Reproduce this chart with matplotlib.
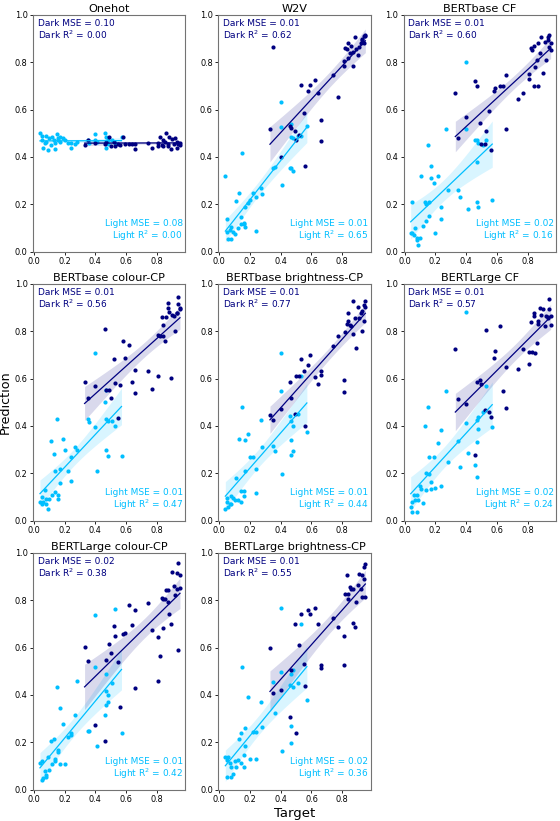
import numpy as np
import matplotlib
matplotlib.use('Agg')
import matplotlib.pyplot as plt

# 目标值（所有子图共用）
light_target = [0.04, 0.05, 0.05, 0.06, 0.07, 0.08, 0.08, 0.09, 0.10, 0.11,
                0.12, 0.13, 0.14, 0.14, 0.15, 0.16, 0.16, 0.17, 0.17, 0.19,
                0.20, 0.22, 0.24, 0.24, 0.27, 0.28, 0.35, 0.36, 0.40, 0.40,
                0.41, 0.46, 0.47, 0.47, 0.47, 0.48, 0.48, 0.51, 0.53, 0.57]
dark_target = [0.33, 0.35, 0.40, 0.46, 0.47, 0.49, 0.50, 0.52, 0.53, 0.55,
               0.56, 0.58, 0.59, 0.62, 0.64, 0.66, 0.66, 0.74, 0.77, 0.81,
               0.81, 0.82, 0.83, 0.84, 0.84, 0.85, 0.86, 0.87, 0.87, 0.88,
               0.89, 0.90, 0.91, 0.92, 0.93, 0.93, 0.94, 0.94, 0.95, 0.95]

titles = ['Onehot', 'W2V', 'BERTbase CF', 'BERTbase colour-CP', 'BERTbase brightness-CP',
          'BERTLarge CF', 'BERTLarge colour-CP', 'BERTLarge brightness-CP']
dark_mse = ['0.10', '0.01', '0.01', '0.01', '0.01', '0.01', '0.02', '0.01']
dark_r2 = ['0.00', '0.62', '0.60', '0.56', '0.77', '0.57', '0.38', '0.55']
light_mse = ['0.08', '0.01', '0.02', '0.01', '0.01', '0.02', '0.01', '0.02']
light_r2 = ['0.00', '0.65', '0.16', '0.47', '0.44', '0.24', '0.42', '0.36']

# 预测值
light_onehot = [0.50, 0.49, 0.47, 0.44, 0.46, 0.49, 0.465, 0.43, 0.48, 0.45,
                0.485, 0.47, 0.46, 0.435, 0.495, 0.48, 0.47, 0.485, 0.465, 0.48,
                0.47, 0.46, 0.44, 0.46, 0.455, 0.465, 0.47, 0.46, 0.495, 0.47,
                0.465, 0.50, 0.485, 0.44, 0.46, 0.47, 0.455, 0.47, 0.46, 0.485]
dark_onehot = [0.45, 0.47, 0.46, 0.455, 0.465, 0.485, 0.445, 0.465, 0.445, 0.455,
               0.45, 0.485, 0.455, 0.455, 0.455, 0.455, 0.435, 0.46, 0.44, 0.46,
               0.445, 0.485, 0.45, 0.47, 0.445, 0.465, 0.50, 0.455, 0.445, 0.485,
               0.435, 0.475, 0.455, 0.48, 0.44, 0.465, 0.46, 0.455, 0.45, 0.46]

light_w2v = [0.32, 0.137, 0.082, 0.056, 0.094, 0.106, 0.052, 0.082, 0.073, 0.215,
             0.099, 0.25, 0.148, 0.117, 0.418, 0.117, 0.123, 0.19, 0.106, 0.204,
             0.218, 0.25, 0.232, 0.089, 0.268, 0.244, 0.352, 0.359, 0.63, 0.528,
             0.282, 0.352, 0.538, 0.352, 0.486, 0.342, 0.479, 0.489, 0.489, 0.531]
dark_w2v = [0.517, 0.863, 0.401, 0.531, 0.524, 0.51, 0.472, 0.493, 0.704, 0.585,
            0.363, 0.68, 0.704, 0.725, 0.672, 0.554, 0.468, 0.746, 0.655, 0.803,
            0.782, 0.859, 0.855, 0.883, 0.817, 0.838, 0.869, 0.785, 0.845, 0.908,
            0.855, 0.831, 0.862, 0.88, 0.892, 0.897, 0.911, 0.88, 0.915, 0.91]

light_base_cf = [0.08, 0.21, 0.08, 0.07, 0.10, 0.05, 0.06, 0.03, 0.06, 0.32,
                 0.11, 0.21, 0.20, 0.13, 0.45, 0.15, 0.21, 0.36, 0.31, 0.29,
                 0.08, 0.32, 0.19, 0.14, 0.52, 0.26, 0.26, 0.23, 0.80, 0.52,
                 0.18, 0.47, 0.21, 0.47, 0.38, 0.19, 0.46, 0.45, 0.47, 0.22]
dark_base_cf = [0.67, 0.48, 0.57, 0.72, 0.70, 0.545, 0.455, 0.455, 0.51, 0.595,
                0.43, 0.68, 0.69, 0.70, 0.70, 0.745, 0.52, 0.645, 0.67, 0.75,
                0.73, 0.86, 0.85, 0.70, 0.87, 0.78, 0.81, 0.88, 0.70, 0.84,
                0.905, 0.755, 0.885, 0.81, 0.895, 0.905, 0.865, 0.915, 0.88, 0.85]

light_base_colour = [0.08, 0.10, 0.07, 0.08, 0.13, 0.09, 0.07, 0.05, 0.09, 0.335,
                     0.11, 0.28, 0.21, 0.12, 0.43, 0.09, 0.11, 0.22, 0.16, 0.345,
                     0.30, 0.21, 0.27, 0.17, 0.31, 0.30, 0.43, 0.415, 0.71, 0.395,
                     0.21, 0.50, 0.55, 0.30, 0.43, 0.275, 0.42, 0.42, 0.40, 0.275]
dark_base_colour = [0.585, 0.52, 0.57, 0.81, 0.55, 0.553, 0.518, 0.684, 0.581, 0.433,
                    0.571, 0.757, 0.686, 0.743, 0.584, 0.541, 0.637, 0.633, 0.556, 0.782,
                    0.609, 0.778, 0.858, 0.827, 0.778, 0.757, 0.858, 0.921, 0.897, 0.883,
                    0.602, 0.869, 0.862, 0.799, 0.878, 0.878, 0.914, 0.944, 0.897, 0.894]

light_base_bright = [0.05, 0.08, 0.096, 0.058, 0.072, 0.105, 0.07, 0.096, 0.089, 0.18,
                     0.089, 0.345, 0.079, 0.124, 0.48, 0.124, 0.105, 0.34, 0.208, 0.366,
                     0.27, 0.269, 0.219, 0.117, 0.426, 0.311, 0.316, 0.293, 0.707, 0.549,
                     0.197, 0.444, 0.342, 0.278, 0.419, 0.295, 0.40, 0.45, 0.609, 0.374]
dark_base_bright = [0.447, 0.426, 0.473, 0.584, 0.518, 0.45, 0.609, 0.613, 0.684, 0.634,
                    0.402, 0.658, 0.698, 0.605, 0.578, 0.616, 0.633, 0.736, 0.781, 0.592,
                    0.543, 0.795, 0.83, 0.844, 0.876, 0.827, 0.82, 0.788, 0.928, 0.855,
                    0.729, 0.90, 0.855, 0.876, 0.80, 0.886, 0.911, 0.841, 0.90, 0.928]

light_large_cf = [0.058, 0.079, 0.039, 0.11, 0.089, 0.039, 0.11, 0.089, 0.145, 0.135,
                  0.075, 0.402, 0.201, 0.131, 0.482, 0.269, 0.197, 0.163, 0.135, 0.269,
                  0.14, 0.328, 0.381, 0.145, 0.546, 0.25, 0.335, 0.226, 0.879, 0.412,
                  0.285, 0.236, 0.426, 0.331, 0.184, 0.44, 0.388, 0.46, 0.567, 0.395]
dark_large_cf = [0.726, 0.513, 0.492, 0.276, 0.585, 0.592, 0.578, 0.468, 0.806, 0.461,
                 0.44, 0.686, 0.717, 0.823, 0.546, 0.647, 0.475, 0.64, 0.726, 0.712,
                 0.662, 0.838, 0.712, 0.876, 0.862, 0.71, 0.752, 0.83, 0.844, 0.897,
                 0.869, 0.894, 0.82, 0.862, 0.855, 0.858, 0.893, 0.937, 0.827, 0.862]

light_large_colour = [0.113, 0.123, 0.041, 0.048, 0.08, 0.052, 0.062, 0.137, 0.083, 0.207,
                      0.109, 0.214, 0.13, 0.123, 0.433, 0.169, 0.158, 0.346, 0.109, 0.278,
                      0.109, 0.221, 0.24, 0.233, 0.317, 0.461, 0.25, 0.25, 0.739, 0.518,
                      0.186, 0.317, 0.358, 0.487, 0.415, 0.37, 0.40, 0.45, 0.762, 0.24]
dark_large_colour = [0.602, 0.542, 0.275, 0.207, 0.549, 0.614, 0.577, 0.691, 0.647, 0.539,
                     0.351, 0.656, 0.661, 0.779, 0.697, 0.76, 0.43, 0.79, 0.676, 0.645,
                     0.458, 0.563, 0.811, 0.807, 0.683, 0.807, 0.845, 0.793, 0.845, 0.743,
                     0.698, 0.917, 0.859, 0.821, 0.849, 0.915, 0.955, 0.591, 0.853, 0.905]

light_large_bright = [0.14, 0.126, 0.055, 0.137, 0.113, 0.097, 0.052, 0.066, 0.123, 0.097,
                      0.126, 0.214, 0.113, 0.24, 0.518, 0.148, 0.097, 0.261, 0.183, 0.391,
                      0.13, 0.243, 0.243, 0.13, 0.37, 0.264, 0.454, 0.323, 0.767, 0.496,
                      0.162, 0.444, 0.487, 0.271, 0.197, 0.433, 0.506, 0.45, 0.698, 0.377]
dark_large_bright = [0.599, 0.409, 0.419, 0.306, 0.504, 0.698, 0.24, 0.609, 0.743, 0.532,
                     0.436, 0.757, 0.74, 0.769, 0.698, 0.527, 0.515, 0.724, 0.687, 0.647,
                     0.525, 0.828, 0.905, 0.803, 0.828, 0.856, 0.849, 0.846, 0.705, 0.687,
                     0.793, 0.863, 0.912, 0.849, 0.814, 0.905, 0.938, 0.891, 0.814, 0.952]

light_preds = [light_onehot, light_w2v, light_base_cf, light_base_colour, light_base_bright,
               light_large_cf, light_large_colour, light_large_bright]
dark_preds = [dark_onehot, dark_w2v, dark_base_cf, dark_base_colour, dark_base_bright,
              dark_large_cf, dark_large_colour, dark_large_bright]

dark_c = 'navy'
light_c = 'deepskyblue'


# 线性拟合 + 95%置信带
def fit_band(x, y):
    x = np.array(x)
    y = np.array(y)
    n = len(x)
    k, b = np.polyfit(x, y, 1)
    xs = np.linspace(x.min(), x.max(), 100)
    resid = y - (k * x + b)
    s = np.sqrt(np.sum(resid ** 2) / (n - 2))
    sxx = np.sum((x - x.mean()) ** 2)
    se = s * np.sqrt(1 / n + (xs - x.mean()) ** 2 / sxx)
    ys = k * xs + b
    return xs, ys, 2.02 * se


fig, axes = plt.subplots(3, 3, figsize=(5.6, 8.21), dpi=100)
plt.subplots_adjust(left=0.059, right=0.993, top=0.982, bottom=0.038, wspace=0.217, hspace=0.135)
axes = axes.flatten()

for i in range(8):
    ax = axes[i]
    for tx, py, c in [(light_target, light_preds[i], light_c), (dark_target, dark_preds[i], dark_c)]:
        xs, ys, band = fit_band(tx, py)
        ax.fill_between(xs, ys - band, ys + band, color=c, alpha=0.15, lw=0)
        ax.scatter(tx, py, s=9, color=c, lw=0, zorder=3)
        ax.plot(xs, ys, color=c, lw=0.9, zorder=4)

    ax.set_xlim(-0.005, 0.985)
    ax.set_ylim(0, 1)
    ax.set_xticks([0.0, 0.2, 0.4, 0.6, 0.8])
    ax.set_yticks([0.0, 0.2, 0.4, 0.6, 0.8, 1.0])
    ax.tick_params(labelsize=5.9, length=2.5, width=0.6, pad=1.5)
    for sp in ax.spines.values():
        sp.set_linewidth(0.8)
        sp.set_color('0.45')
    ax.set_title(titles[i], fontsize=8.1, pad=2)

    ax.text(0.03, 0.962, 'Dark MSE = ' + dark_mse[i], transform=ax.transAxes,
            color=dark_c, fontsize=6.5, va='center', ha='left')
    ax.text(0.03, 0.914, 'Dark R$^2$ = ' + dark_r2[i], transform=ax.transAxes,
            color=dark_c, fontsize=6.5, va='center', ha='left')
    ax.text(0.985, 0.118, 'Light MSE = ' + light_mse[i], transform=ax.transAxes,
            color=light_c, fontsize=6.5, va='center', ha='right')
    ax.text(0.985, 0.066, 'Light R$^2$ = ' + light_r2[i], transform=ax.transAxes,
            color=light_c, fontsize=6.5, va='center', ha='right')

axes[3].set_ylabel('Prediction', fontsize=9.2, labelpad=2)
axes[7].set_xlabel('Target', fontsize=9.5, labelpad=2)
axes[8].remove()

plt.savefig('out.png', dpi=100)
